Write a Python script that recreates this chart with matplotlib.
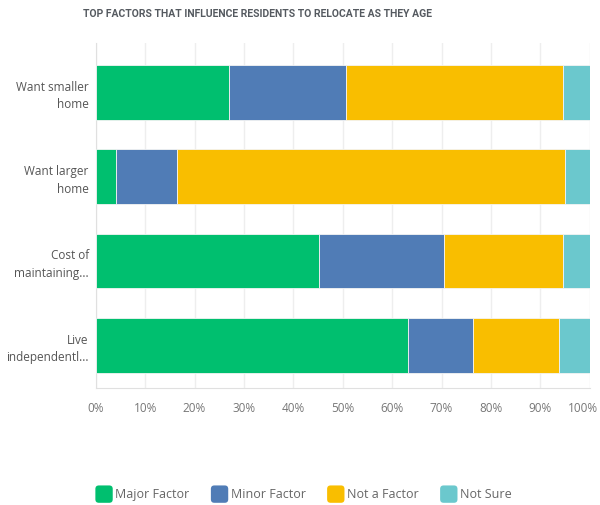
import matplotlib
matplotlib.use("Agg")
import matplotlib.pyplot as plt
from matplotlib.patches import Patch, FancyBboxPatch
from matplotlib.legend_handler import HandlerPatch
from matplotlib.transforms import ScaledTranslation
import numpy as np

plt.rcParams['font.family'] = ['Open Sans', 'DejaVu Sans']

categories = ["Want smaller\nhome", "Want larger\nhome", "Cost of\nmaintaining...", "Live\nindependentl..."]
series_names = ["Major Factor", "Minor Factor", "Not a Factor", "Not Sure"]
major = [27.0, 4.1, 45.2, 63.3]
minor = [23.7, 12.3, 25.2, 13.0]
not_factor = [43.8, 78.5, 24.1, 17.5]
not_sure = [5.5, 5.1, 5.5, 6.2]
colors = ["#00BF6F", "#507CB6", "#F9BE00", "#6BC8CD"]
x_ticks = np.arange(0, 101, 10)


class RoundedSquare(HandlerPatch):
    # legend key drawn as a small square with rounded corners
    def create_artists(self, legend, orig_handle, xdescent, ydescent,
                       width, height, fontsize, trans):
        side = 12.5
        x0 = -xdescent + (width - side) / 2
        y0 = -ydescent + (height - side) / 2
        box = FancyBboxPatch((x0, y0), side, side,
                             boxstyle="round,pad=0,rounding_size=2.5",
                             facecolor=orig_handle.get_facecolor(),
                             edgecolor="none", transform=trans)
        return [box]


fig = plt.figure(figsize=(6, 5.05), dpi=100)
ax = fig.add_axes([0.1595, 0.2317, 0.8235, 0.6832])

y = np.arange(len(categories))
left = np.zeros(len(categories))
for vals, color, name in zip([major, minor, not_factor, not_sure], colors, series_names):
    ax.barh(y, vals, left=left, height=0.65, color=color, edgecolor="#f4f4f4",
            linewidth=0.6, label=name, zorder=3)
    left += np.array(vals)

ax.set_xlim(0, 100)
ax.set_ylim(3.506, -0.585)
ax.set_xticks(x_ticks)
ax.set_xticklabels([f"{t}%" for t in x_ticks])
ax.set_yticks(y)
ax.set_yticklabels(categories, fontsize=8.5, color="#555555", linespacing=1.45)
ax.tick_params(axis="x", length=0, pad=10, labelsize=8.5, labelcolor="#777777")
ax.tick_params(axis="y", length=0, pad=5)
ax.grid(axis="x", color="#eeeeee", linewidth=1, zorder=0)
for side in ["top", "right"]:
    ax.spines[side].set_visible(False)
ax.spines["left"].set_color("#e0e0e0")
ax.spines["bottom"].set_color("#e0e0e0")

# pull the last tick label in so it stays inside the figure
last = ax.get_xticklabels()[-1]
last.set_transform(last.get_transform() + ScaledTranslation(-5 / 72, 0, fig.dpi_scale_trans))

fig.text(0.138, 0.972, "TOP FACTORS THAT INFLUENCE RESIDENTS TO RELOCATE AS THEY AGE",
         fontsize=7.5, fontweight="bold", color="#555a60", ha="left", va="center",
         family=["Roboto", "DejaVu Sans"])

handles = [Patch(facecolor=c) for c in colors]
fig.legend(handles, series_names, loc="center", bbox_to_anchor=(0.508, 0.02),
           ncol=4, frameon=False, fontsize=9, labelcolor="#666666",
           handletextpad=0.4, columnspacing=1.9, handlelength=1.0, handleheight=1.0,
           handler_map={Patch: RoundedSquare()})

fig.savefig("out.png", dpi=100)
